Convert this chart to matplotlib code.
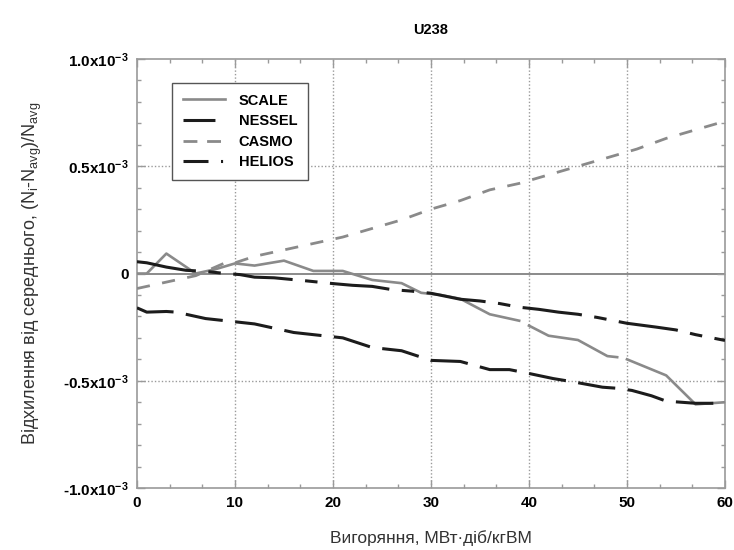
import numpy as np
import matplotlib
matplotlib.use("Agg")
import matplotlib.pyplot as plt
from matplotlib.lines import Line2D
from matplotlib.ticker import MultipleLocator, FuncFormatter

plt.rcParams['font.family'] = ['Liberation Sans', 'DejaVu Sans']
plt.rcParams['mathtext.default'] = 'regular'
plt.rcParams['lines.scale_dashes'] = False

# deviation from the average, in units of 1e-3
scale_x = [0, 1, 3, 6, 8, 10, 12, 15, 18, 21, 24, 27, 29, 31, 33, 36, 39, 39.5,
           40, 42, 45, 48, 49, 49.5, 50, 54, 57, 60]
scale_y = [0, 0, 0.093, 0.0, 0.02, 0.047, 0.037, 0.06, 0.012, 0.012, -0.03, -0.045,
           -0.09, -0.1, -0.118, -0.19, -0.22, np.nan, -0.243, -0.29, -0.31, -0.385,
           -0.39, np.nan, -0.40, -0.475, -0.61, -0.60]

nessel_x = [0, 1, 3, 4, 7, 9, 12, 14, 16, 19, 21, 23, 24, 27, 30, 33, 36, 38, 40,
            42.5, 44.5, 47.5, 49, 50.5, 52.5, 54, 57, 60]
nessel_y = [-0.16, -0.18, -0.177, -0.18, -0.21, -0.22, -0.235, -0.255, -0.275, -0.29,
            -0.30, -0.33, -0.345, -0.36, -0.405, -0.41, -0.448, -0.448, -0.466, -0.49,
            -0.505, -0.53, -0.535, -0.545, -0.57, -0.595, -0.605, -0.605]

casmo_x = [0, 3, 6, 9, 10, 12, 15, 18, 21, 24, 27, 30, 33, 36, 39, 42, 45, 48, 51,
           54, 57, 60]
casmo_y = [-0.07, -0.04, -0.01, 0.05, 0.05, 0.08, 0.11, 0.14, 0.17, 0.21, 0.25, 0.30,
           0.34, 0.39, 0.42, 0.46, 0.50, 0.54, 0.58, 0.63, 0.67, 0.71]

helios_x = [0, 1, 3, 5, 7, 9, 10.5, 12, 14, 17, 20, 22, 24, 26, 28, 30, 33, 35, 37,
            39, 41, 43, 45, 47, 50, 53, 55, 57, 60]
helios_y = [0.055, 0.05, 0.03, 0.015, 0.01, 0.0, -0.005, -0.017, -0.02, -0.033, -0.047,
            -0.055, -0.06, -0.075, -0.082, -0.092, -0.12, -0.128, -0.14, -0.157, -0.167,
            -0.18, -0.19, -0.205, -0.232, -0.25, -0.263, -0.285, -0.312]

GRAY = '#8a8a8a'
DARK = '#1c1c1c'
FRAME = '#9a9a9a'

fig = plt.figure(figsize=(7.34, 5.5), dpi=100)
ax = fig.add_axes([0.1866, 0.1127, 0.8011, 0.78])

ax.axhline(0, color=GRAY, lw=1.4, zorder=1)

e = 1e-3
ax.plot(scale_x, np.array(scale_y) * e, color=GRAY, lw=1.9, zorder=3)
ax.plot(nessel_x, np.array(nessel_y) * e, color=DARK, lw=2.2,
        linestyle=(0, (27, 9)), zorder=3)
ax.plot(casmo_x, np.array(casmo_y) * e, color=GRAY, lw=2.0,
        linestyle=(0, (9.5, 9)), zorder=3)
ax.plot(helios_x, np.array(helios_y) * e, color=DARK, lw=2.2,
        linestyle=(0, (43, 9, 9, 9)), zorder=3)

ax.set_xlim(0, 60)
ax.set_ylim(-1.0e-3, 1.0e-3)
ax.xaxis.set_major_locator(MultipleLocator(10))
ax.xaxis.set_minor_locator(MultipleLocator(10 / 3))
ax.yaxis.set_major_locator(MultipleLocator(0.5e-3))
ax.yaxis.set_minor_locator(MultipleLocator(0.1e-3))


def ylab(v, pos):
    if abs(v) < 1e-9:
        return '0'
    return '%.1fx10$^{-3}$' % (v / e)


ax.yaxis.set_major_formatter(FuncFormatter(ylab))
ax.tick_params(which='both', direction='in', top=True, right=True, color=FRAME)
ax.tick_params(which='major', length=6, width=1, labelsize=11, pad=6)
ax.tick_params(which='minor', length=3, width=1)
for lbl in ax.get_xticklabels() + ax.get_yticklabels():
    lbl.set_fontweight('bold')
for sp in ax.spines.values():
    sp.set_color(FRAME)
    sp.set_linewidth(1.2)

# dotted grid, zero line is drawn separately
for gx in [10, 20, 30, 40, 50]:
    ax.axvline(gx, color=FRAME, lw=1.0, linestyle=(0, (1, 1.5)), zorder=0)
for gy in [-0.5e-3, 0.5e-3]:
    ax.axhline(gy, color=FRAME, lw=1.0, linestyle=(0, (1, 1.5)), zorder=0)

ax.set_title('U238', fontsize=10.5, fontweight='bold', pad=18)
ax.set_xlabel('Вигоряння, МВт·діб/кгВМ', fontsize=12.5, labelpad=14, color='#333333')
ax.set_ylabel('Відхилення від середнього, (N$_i$-N$_{avg}$)/N$_{avg}$',
              fontsize=13, labelpad=14, color='#333333')

handles = [
    Line2D([], [], color=GRAY, lw=1.9),
    Line2D([], [], color=DARK, lw=2.2, linestyle=(0, (23, 30))),
    Line2D([], [], color=GRAY, lw=2.0, linestyle=(0, (10, 7))),
    Line2D([], [], color=DARK, lw=2.2, linestyle=(0, (18, 9, 1.5, 20))),
]
leg = ax.legend(handles, ['SCALE', 'NESSEL', 'CASMO', 'HELIOS'],
                loc='upper left', bbox_to_anchor=(0.06, 0.945), borderaxespad=0,
                prop={'weight': 'bold', 'size': 10.5}, fancybox=False,
                edgecolor='#555555', framealpha=1, handlelength=2.9,
                handletextpad=0.9, labelspacing=0.45, borderpad=0.75)
leg.get_frame().set_linewidth(1.0)

fig.savefig('out.png', dpi=100)
